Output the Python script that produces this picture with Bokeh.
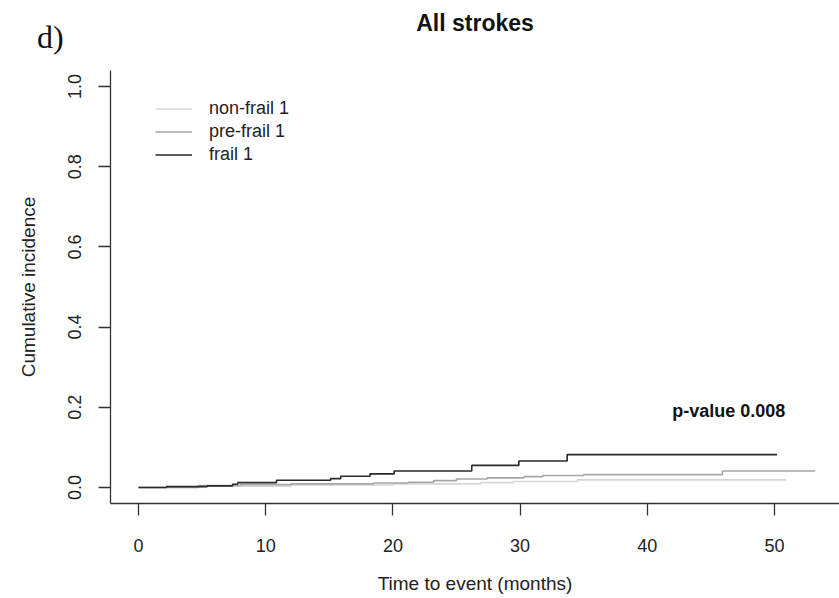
from bokeh.plotting import figure
from bokeh.models import (Legend, LegendItem, Label, Title, Div, FixedTicker, PrintfTickFormatter, Range1d)
from bokeh.embed import file_html
from bokeh.resources import INLINE

# ---- data ----
nonfrail_t = [0, 5.0, 12.0, 20.0, 26.9, 29.5, 34.5, 50.9]
nonfrail_y = [0, 0.003, 0.006, 0.009, 0.012, 0.015, 0.019, 0.019]

prefrail_t = [0, 4.7, 8.0, 12.0, 18.5, 21.2, 23.2, 25.0, 27.4, 30.3, 31.8, 35.0, 45.9, 53.2]
prefrail_y = [0, 0.005, 0.007, 0.009, 0.011, 0.013, 0.017, 0.021, 0.024, 0.027, 0.030, 0.032, 0.041, 0.041]

frail_t = [0, 2.2, 5.4, 7.4, 7.8, 10.85, 15.1, 15.9, 18.2, 20.1, 26.2, 29.9, 33.7, 50.2]
frail_y = [0, 0.002, 0.004, 0.008, 0.012, 0.018, 0.022, 0.028, 0.034, 0.041, 0.055, 0.066, 0.082, 0.082]

series_names = ["non-frail 1", "pre-frail 1", "frail 1"]
x_ticks = [0, 10, 20, 30, 40, 50]
y_ticks = [0.0, 0.2, 0.4, 0.6, 0.8, 1.0]

FONT = "Liberation Sans"
X0, X1 = -2.2, 55.11
Y0, Y1 = -0.04, 1.04
W, H = 839, 598
BL, BT, BB = 110, 70, 95
frame_h = H - BT - BB
frame_w = W - BL

p = figure(width=W, height=H, output_backend="svg", toolbar_location=None,
           x_range=Range1d(X0, X1), y_range=Range1d(Y0, Y1),
           min_border_left=BL, min_border_right=0, min_border_top=BT, min_border_bottom=BB)

p.outline_line_color = None
p.xgrid.grid_line_color = None
p.ygrid.grid_line_color = None
p.background_fill_color = "white"
p.border_fill_color = "white"

for ax in (p.xaxis[0], p.yaxis[0]):
    ax.axis_line_color = "#333333"
    ax.axis_line_width = 1.3
    ax.major_tick_line_color = "#333333"
    ax.major_tick_line_width = 1.3
    ax.major_tick_in = 0
    ax.major_tick_out = 12
    ax.minor_tick_line_color = None
    ax.major_label_text_font = FONT
    ax.major_label_text_font_size = "18px"
    ax.major_label_text_color = "#222222"
    ax.axis_label_text_font = FONT
    ax.axis_label_text_font_size = "19px"
    ax.axis_label_text_font_style = "normal"
    ax.axis_label_text_color = "#222222"

p.xaxis.ticker = FixedTicker(ticks=x_ticks)
p.xaxis.formatter = PrintfTickFormatter(format="%d")
p.xaxis.axis_label = "Time to event (months)"
p.xaxis.major_label_standoff = 23
p.xaxis.axis_label_standoff = 18

p.yaxis.ticker = FixedTicker(ticks=y_ticks)
p.yaxis.formatter = PrintfTickFormatter(format="%.1f")
p.yaxis.axis_label = "Cumulative incidence"
p.yaxis.major_label_orientation = "vertical"
p.yaxis.major_label_standoff = 17
p.yaxis.axis_label_standoff = 27

r_non = p.step(nonfrail_t, nonfrail_y, mode="after", line_color="#d6d6d6", line_width=1.6)
r_pre = p.step(prefrail_t, prefrail_y, mode="after", line_color="#a6a6a6", line_width=1.6)
r_frail = p.step(frail_t, frail_y, mode="after", line_color="#2a2a2a", line_width=1.6)

legend = Legend(items=[LegendItem(label=series_names[0], renderers=[r_non]),
                       LegendItem(label=series_names[1], renderers=[r_pre]),
                       LegendItem(label=series_names[2], renderers=[r_frail])],
                location=(45, frame_h - 27 - 69), border_line_color=None, background_fill_alpha=0,
                glyph_width=37, glyph_height=23, label_height=23, label_standoff=17,
                spacing=0, padding=0, margin=0,
                label_text_font=FONT, label_text_font_size="18px", label_text_color="#222222")
p.add_layout(legend, "center")

p.add_layout(Label(x=46.4, y=0.19, text="p-value 0.008", text_align="center",
                   text_baseline="middle", text_font=FONT, text_font_size="18px",
                   text_font_style="bold", text_color="#111111"))

# panel tag "d)" as an absolutely positioned element over the top-left corner
panel_tag = "d)"
use_div = True
try:
    tag_div = Div(text=panel_tag, styles={
        "position": "absolute", "left": "37px", "top": "21px",
        "font-family": "Liberation Serif", "font-size": "32px", "line-height": "1",
        "color": "#111111", "margin": "0", "padding": "0", "z-index": "10"})
    p.elements = [tag_div]
except Exception:
    use_div = False

# spacer keeps the main title at the right height above the frame
t_panel = Title(text=(" " if use_div else panel_tag), align="left", offset=-73,
                standoff=(-3 if use_div else 0),
                text_font="Liberation Serif", text_font_size="32px",
                text_font_style="normal", text_color="#111111")
t_main = Title(text="All strokes", align="center", standoff=0,
               text_font=FONT, text_font_size="23px", text_font_style="bold",
               text_color="#111111")
p.add_layout(t_panel, "above")
p.add_layout(t_main, "above")

open("out.html", "w").write(file_html(p, INLINE))
